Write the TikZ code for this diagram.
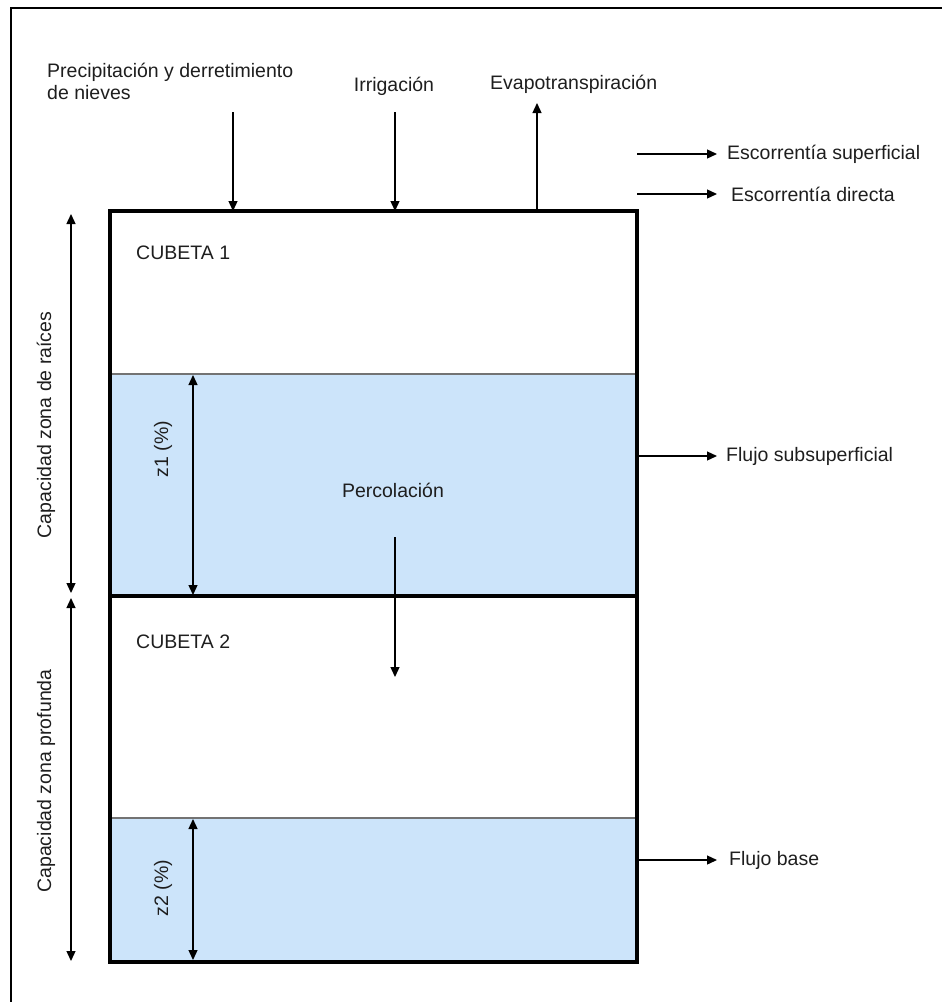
\documentclass[tikz,border=0pt]{standalone}
\usepackage{fontspec}
\setmainfont{Liberation Sans}
\usetikzlibrary{arrows.meta}
\definecolor{fillblue}{HTML}{CCE4FA}
\definecolor{txt}{HTML}{1E1E1E}
\tikzset{
  lbl/.style={inner sep=0pt, text=txt, font=\fontsize{19.5}{22}\selectfont},
  flow/.style={line width=1.3pt, -{Triangle[length=10pt,width=9pt]}},
  dim/.style={line width=1.3pt, {Triangle[length=10pt,width=9pt]}-{Triangle[length=10pt,width=9pt]}},
  boxline/.style={line width=4.5pt, line cap=rect},
}
\begin{document}
\begin{tikzpicture}[x=1pt,y=-1pt]
\useasboundingbox (0,0) rectangle (942,1002);
% outer frame
\draw[line width=2.5pt] (11,1010) -- (11,8) -- (950,8);
% blue layers
\fill[fillblue] (110,374) rectangle (637,596);
\fill[fillblue] (110,818) rectangle (637,962);
\draw[line width=1.2pt, black!55] (110,374) -- (637,374);
\draw[line width=1.2pt, black!55] (110,818) -- (637,818);
% box
\draw[boxline] (110,211) rectangle (637,962);
\draw[line width=4.5pt] (110,596) -- (637,596);
% coordinates for connectors
\coordinate (ptop) at (233,211);
\coordinate (itop) at (395,211);
\coordinate (etop) at (537,211);
\coordinate (r1) at (637,154);
\coordinate (r2) at (637,194);
\coordinate (rs) at (637,456);
\coordinate (rb) at (637,860);
% labels
\node[lbl, anchor=base west] (prec) at (47,77) {Precipitación y derretimiento};
\node[lbl, anchor=base west] (prec2) at (47,99) {de nieves};
\node[lbl, anchor=base] (irr) at (394,91) {Irrigación};
\node[lbl, anchor=base west] (evap) at (490,89) {Evapotranspiración};
\node[lbl, anchor=west] (esup) at (727,154) {Escorrentía superficial};
\node[lbl, anchor=west] (edir) at (731,194) {Escorrentía directa};
\node[lbl, anchor=west] (fsub) at (726,456) {Flujo subsuperficial};
\node[lbl, anchor=west] (fbase) at (729,860) {Flujo base};
\node[lbl, anchor=base west] (c1) at (136,259) {CUBETA 1};
\node[lbl, anchor=base west] (c2) at (136,648) {CUBETA 2};
\node[lbl] (perc) at (393,490) {Percolación};
\node[lbl, rotate=90] (czr) at (46,425) {Capacidad zona de raíces};
\node[lbl, rotate=90] (czp) at (46,781) {Capacidad zona profunda};
\node[lbl, rotate=90] (z1) at (163,449) {z1 (\%)};
\node[lbl, rotate=90] (z2) at (163,888) {z2 (\%)};
% source points
\coordinate (ps) at (233,112);
\coordinate (is) at (395,112);
\coordinate (ee) at (537,103);
\coordinate (perc1) at (395,537);
\coordinate (perc2) at (395,677);
% vertical flows
\draw[flow] (ps) -- (ptop);
\draw[flow] (is) -- (itop);
\draw[flow] (etop) -- (ee);
\draw[flow] (perc1) -- (perc2);
% horizontal flows
\draw[flow] (r1) -- (717,154);
\draw[flow] (r2) -- (717,194);
\draw[flow] (rs) -- (717,456);
\draw[flow] (rb) -- (717,860);
% dimension arrows
\coordinate (d1a) at (71,214);
\coordinate (d1b) at (71,593);
\coordinate (d2a) at (71,598);
\coordinate (d2b) at (71,961);
\coordinate (z1a) at (193,375);
\coordinate (z1b) at (193,595);
\coordinate (z2a) at (193,819);
\coordinate (z2b) at (193,960);
\draw[dim] (d1a) -- (d1b);
\draw[dim] (d2a) -- (d2b);
\draw[dim] (z1a) -- (z1b);
\draw[dim] (z2a) -- (z2b);
\end{tikzpicture}
\end{document}
